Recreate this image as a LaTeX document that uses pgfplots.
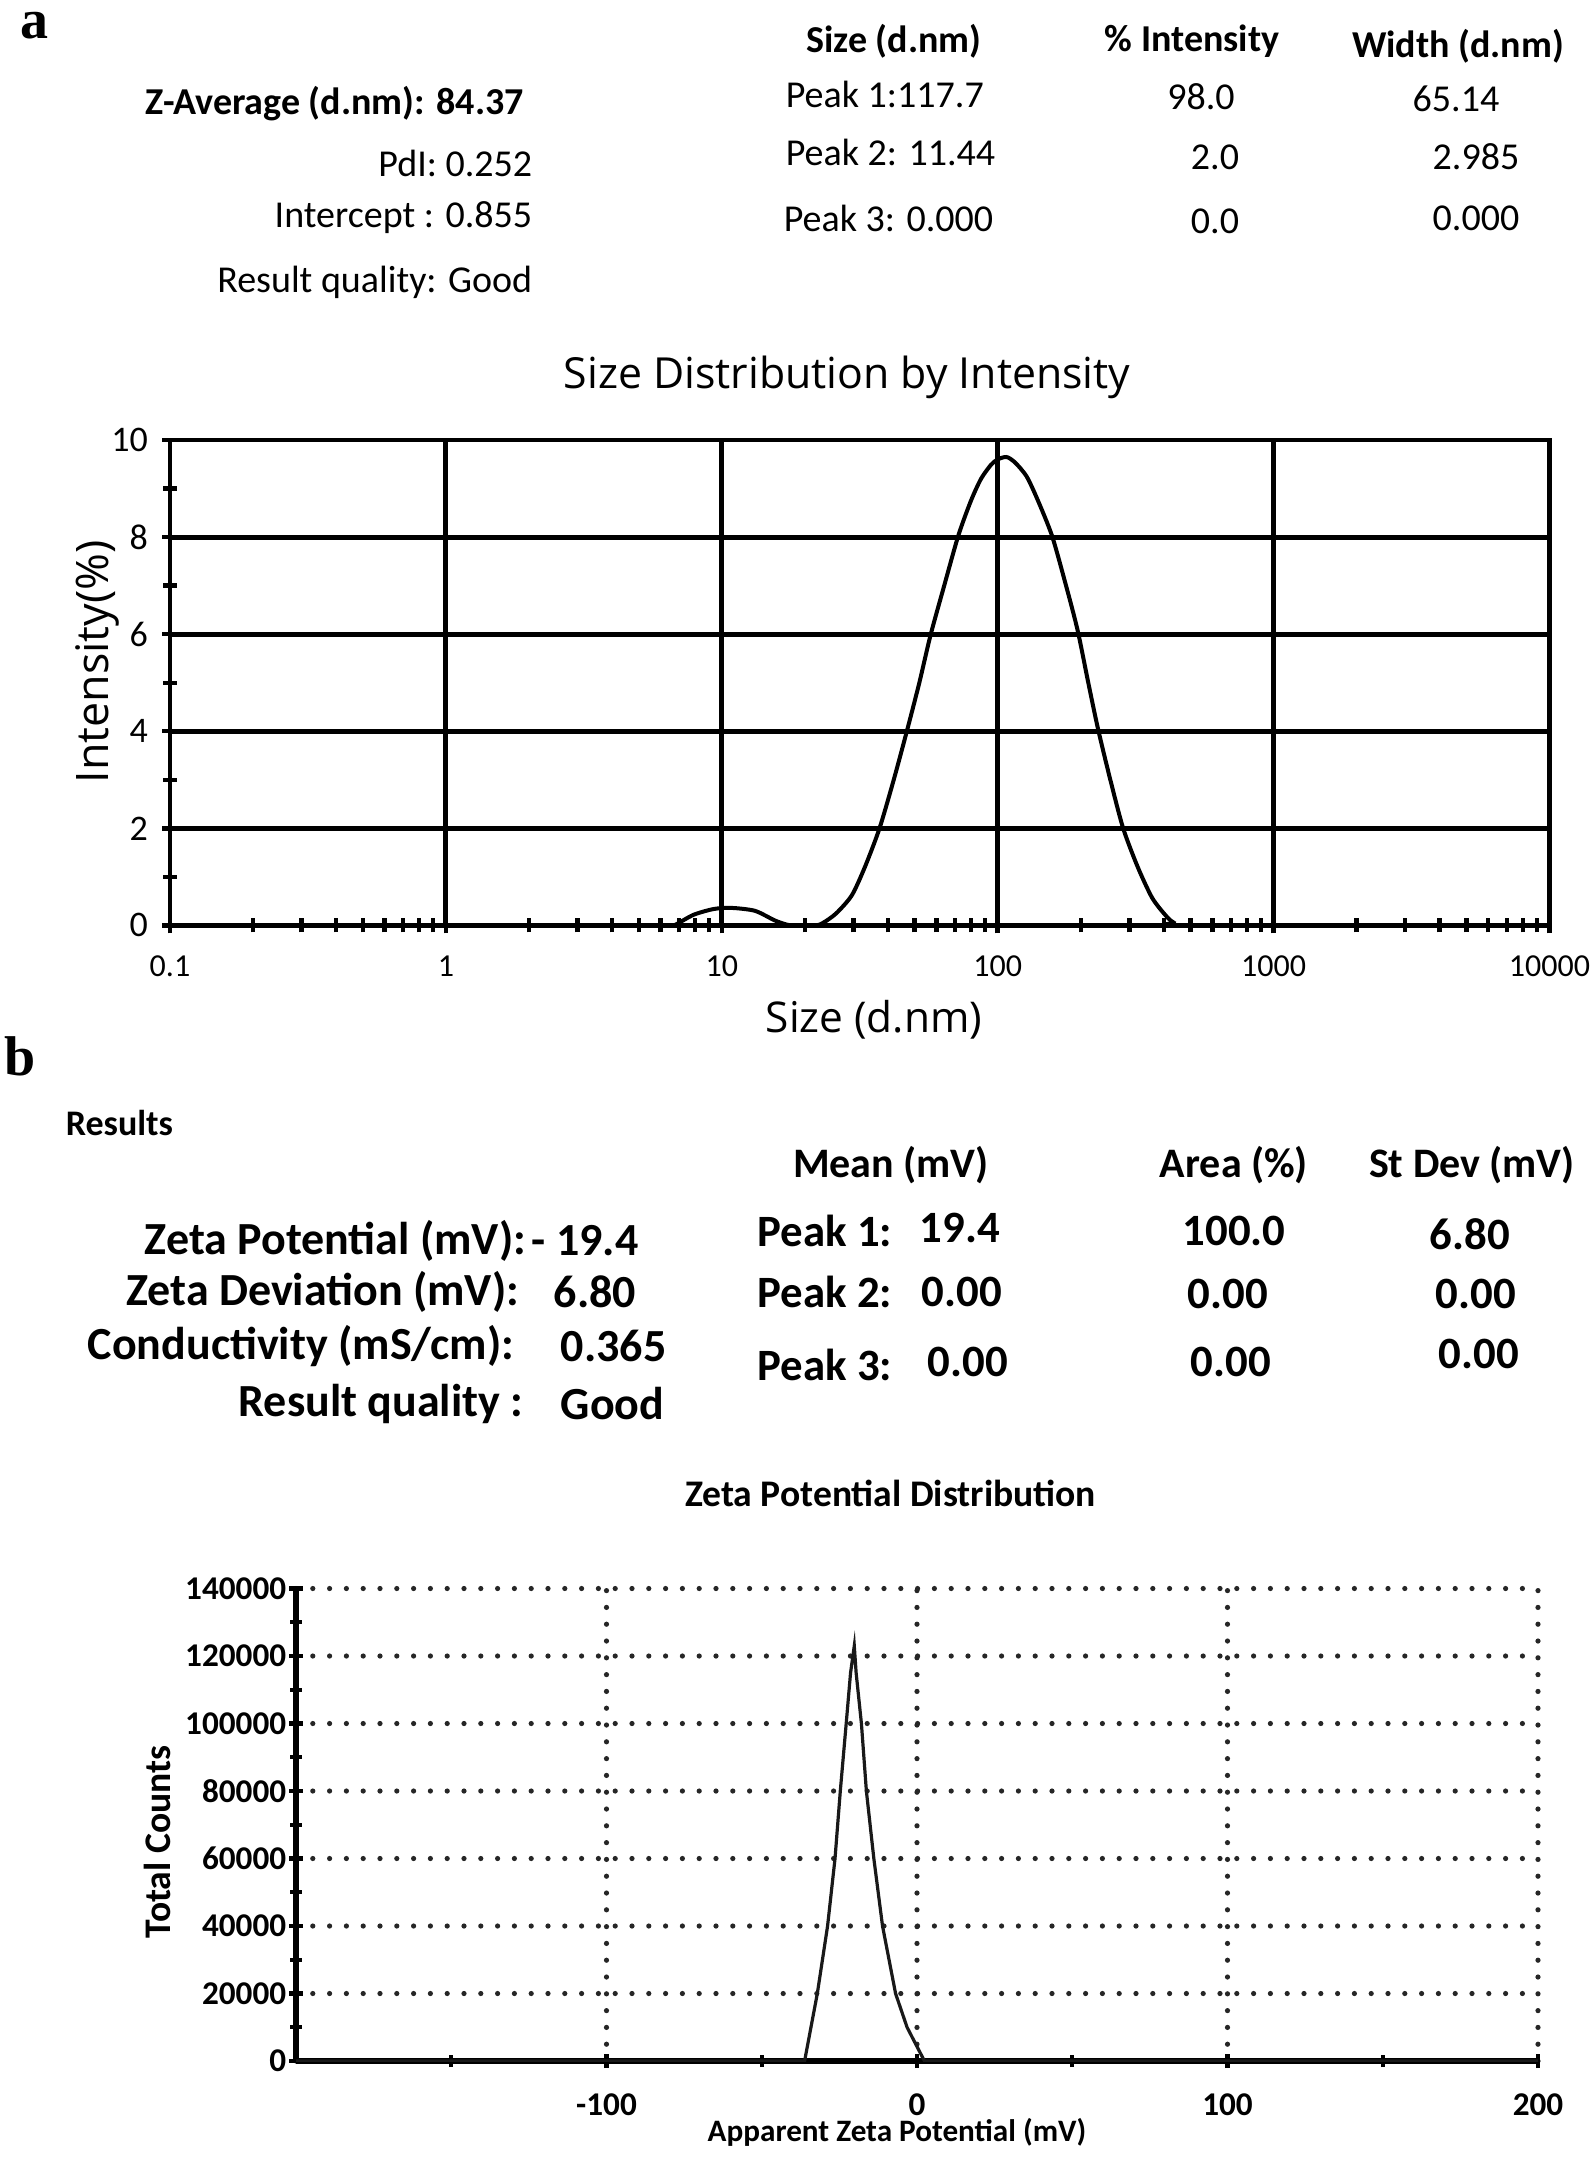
\documentclass[border=0pt]{standalone}
\usepackage{fontspec}
\setmainfont{Carlito}
\newfontfamily\opensans{Open Sans}
\newfontfamily\seriffont{Liberation Serif}
\usepackage{pgfplots}
\usepackage{pgfplotstable}
\pgfplotsset{compat=1.18}

\newcommand\fs[1]{\fontsize{#1pt}{#1pt}\selectfont}

% size distribution by intensity
\pgfplotstableread{
size intensity
0.1 0
6.5 0
6.82 0.02
7.91 0.22
9.38 0.34
10.9 0.36
13.2 0.30
15.6 0.10
17.4 0.01
19 0
22 0
23.4 0.06
26 0.25
29.6 0.62
33 1.2
37.3 2.0
42 3.0
47.1 4.05
52 5.0
57.1 5.98
64 7.0
72 8.03
79.9 8.74
87 9.2
94.6 9.49
100 9.6
107.5 9.65
115 9.55
127.3 9.25
140 8.75
157.3 8.03
175 7.1
194.5 6.10
213 5.0
231 4.05
256 3.0
285 2.0
322 1.2
362 0.58
400 0.25
434 0.06
493 0
10000 0
}\sizedata

% zeta potential distribution
\pgfplotstableread{
mv counts
-200 0
-36.2 0
-32.1 20000
-28.8 40000
-26.4 60000
-24.7 80000
-22.8 100000
-21.4 115000
-20.2 123000
-19.6 115000
-17.9 100000
-16.3 80000
-13.9 60000
-11.1 40000
-6.9 20000
-3.2 10000
2.4 0
200 0
}\zetadata

\begin{document}
\begin{tikzpicture}[x=0.25pt,y=0.25pt]
\path[use as bounding box] (0,0) rectangle (1595,-2166);

% ---------- panel a ----------
\node[inner sep=0pt, font=\seriffont\bfseries\fs{14}] at (35,-26) {a};

\begin{scope}[every node/.style={inner sep=0pt}]
\node[anchor=east, font=\bfseries\fs{9.5}] at (524.5,-104) {Z-Average (d.nm): 84.37};
\node[anchor=east, font=\fs{9.5}] at (533,-163) {PdI: 0.252};
\node[anchor=east, font=\fs{9.5}] at (533,-218) {Intercept : 0.855};
\node[anchor=east, font=\fs{9.5}] at (533,-282) {Result quality: Good};

\node[font=\bfseries\fs{9.5}] at (894,-41) {Size (d.nm)};
\node[font=\bfseries\fs{9.5}] at (1192,-41) {\% Intensity};
\node[font=\bfseries\fs{9.5}] at (1458,-46) {Width (d.nm)};
\node[anchor=west, font=\fs{9.5}] at (785,-94) {Peak 1:117.7};
\node[anchor=west, font=\fs{9.5}] at (785,-152) {Peak 2: 11.44};
\node[anchor=west, font=\fs{9.5}] at (783,-218) {Peak 3: 0.000};
\node[font=\fs{9.5}] at (1201,-97) {98.0};
\node[font=\fs{9.5}] at (1215,-157) {2.0};
\node[font=\fs{9.5}] at (1215,-221) {0.0};
\node[font=\fs{9.5}] at (1456,-99) {65.14};
\node[font=\fs{9.5}] at (1476,-157) {2.985};
\node[font=\fs{9.5}] at (1476,-218) {0.000};
\end{scope}

\begin{axis}[
    at={(42.5pt,-231.35pt)}, anchor=south west,
    scale only axis,
    width=344.875pt, height=121.35pt,
    xmode=log, log basis x=10,
    xmin=0.1, xmax=10000,
    ymin=0, ymax=10,
    xtick={0.1,1,10,100,1000,10000},
    xticklabels={0.1,1,10,100,1000,10000},
    minor xtick={0.2,0.3,0.4,0.5,0.6,0.7,0.8,0.9,2,3,4,5,6,7,8,9,20,30,40,50,60,70,80,90,200,300,400,500,600,700,800,900,2000,3000,4000,5000,6000,7000,8000,9000},
    ytick={0,2,4,6,8,10},
    yticklabels={0,2,4,6,8,10},
    minor ytick={1,3,5,7,9},
    grid=major,
    major grid style={black, line width=1.2pt},
    axis line style={black, line width=1.2pt},
    tick align=center, tick pos=left,
    major tick length=4pt, minor tick length=3.5pt,
    tick style={black, line width=1.1pt},
    ticklabel style={font=\fs{8}},
    yticklabel style={font=\fs{9}},
    xticklabel style={yshift=-2pt},
    title={Size Distribution by Intensity},
    title style={font=\opensans\fs{10.7}, at={(axis description cs:0.4908,1.08)}, anchor=center},
    xlabel={Size (d.nm)},
    xlabel style={font=\opensans\fs{10.6}, at={(axis description cs:0.5103,-0.1949)}, anchor=center},
    ylabel={Intensity(\%)},
    ylabel style={font=\opensans\fs{11.2}, at={(axis description cs:-0.0529,0.5427)}, anchor=center},
]
\addplot[black, line width=1pt, smooth, tension=0.45] table[x=size, y=intensity] {\sizedata};
\end{axis}

% ---------- panel b ----------
\node[inner sep=0pt, font=\seriffont\bfseries\fs{14}] at (20,-1056) {b};

\begin{scope}[every node/.style={inner sep=0pt}]
\node[anchor=west, font=\bfseries\fs{9}] at (65,-1123) {Results};

\node[anchor=east, font=\bfseries\fs{11.5}] at (527,-1241) {Zeta Potential (mV):};
\node[anchor=west, font=\bfseries\fs{11.5}] at (531,-1241) {- 19.4};
\node[anchor=east, font=\bfseries\fs{11.5}] at (520,-1292) {Zeta Deviation (mV):};
\node[anchor=west, font=\bfseries\fs{11.5}] at (553,-1292) {6.80};
\node[anchor=east, font=\bfseries\fs{11.5}] at (515,-1346) {Conductivity (mS/cm):};
\node[anchor=west, font=\bfseries\fs{11.5}] at (560,-1346) {0.365};
\node[anchor=east, font=\bfseries\fs{11.5}] at (524,-1404) {Result quality :};
\node[anchor=west, font=\bfseries\fs{11.5}] at (560,-1404) {Good};

\node[font=\bfseries\fs{10.5}] at (891,-1165) {Mean (mV)};
\node[font=\bfseries\fs{10.5}] at (1234,-1165) {Area (\%)};
\node[font=\bfseries\fs{10.5}] at (1472,-1165) {St Dev (mV)};
\node[anchor=west, font=\bfseries\fs{11.2}] at (757,-1231) {Peak 1:};
\node[anchor=west, font=\bfseries\fs{11.2}] at (757,-1292) {Peak 2:};
\node[anchor=west, font=\bfseries\fs{11.2}] at (757,-1365) {Peak 3:};
\node[font=\bfseries\fs{11.2}] at (960,-1228) {19.4};
\node[font=\bfseries\fs{11.2}] at (962,-1292) {0.00};
\node[font=\bfseries\fs{11.2}] at (968,-1362) {0.00};
\node[font=\bfseries\fs{11.2}] at (1234,-1231) {100.0};
\node[font=\bfseries\fs{11.2}] at (1228,-1294) {0.00};
\node[font=\bfseries\fs{11.2}] at (1231,-1362) {0.00};
\node[font=\bfseries\fs{11.2}] at (1470,-1234) {6.80};
\node[font=\bfseries\fs{11.2}] at (1476,-1294) {0.00};
\node[font=\bfseries\fs{11.2}] at (1479,-1354) {0.00};
\end{scope}

\begin{axis}[
    at={(74pt,-515.25pt)}, anchor=south west,
    scale only axis,
    width=310.5pt, height=118.125pt,
    xmin=-200, xmax=200,
    ymin=0, ymax=140000,
    axis lines=left,
    axis line style={-, black, line width=1.3pt},
    xtick={-100,0,100,200},
    xticklabels={-100,0,100,200},
    minor xtick={-150,-50,50,150},
    ytick={0,20000,40000,60000,80000,100000,120000,140000},
    yticklabels={0,20000,40000,60000,80000,100000,120000,140000},
    minor ytick={10000,30000,50000,70000,90000,110000,130000},
    scaled y ticks=false,
    grid=major,
    major grid style={black!85, line width=1.3pt, line cap=round, dash pattern=on 0pt off 4.2pt},
    tick align=center,
    major tick length=3.5pt, minor tick length=3pt,
    tick style={black, line width=1.1pt},
    ticklabel style={font=\bfseries\fs{8.3}},
    xticklabel style={yshift=-3pt},
    yticklabel style={inner xsep=0.5pt},
    title={Zeta Potential Distribution},
    title style={font=\bfseries\fs{9.4}, at={(axis description cs:0.4787,1.15)}, anchor=center},
    xlabel={Apparent Zeta Potential (mV)},
    xlabel style={font=\bfseries\fs{7.8}, at={(axis description cs:0.4839,-0.152)}, anchor=center},
    ylabel={Total Counts},
    ylabel style={font=\bfseries\fs{9.4}, at={(axis description cs:-0.1119,0.4635)}, anchor=center},
]
\addplot[black!90, line width=0.8pt] table[x=mv, y=counts] {\zetadata};
\end{axis}
\end{tikzpicture}
\end{document}
